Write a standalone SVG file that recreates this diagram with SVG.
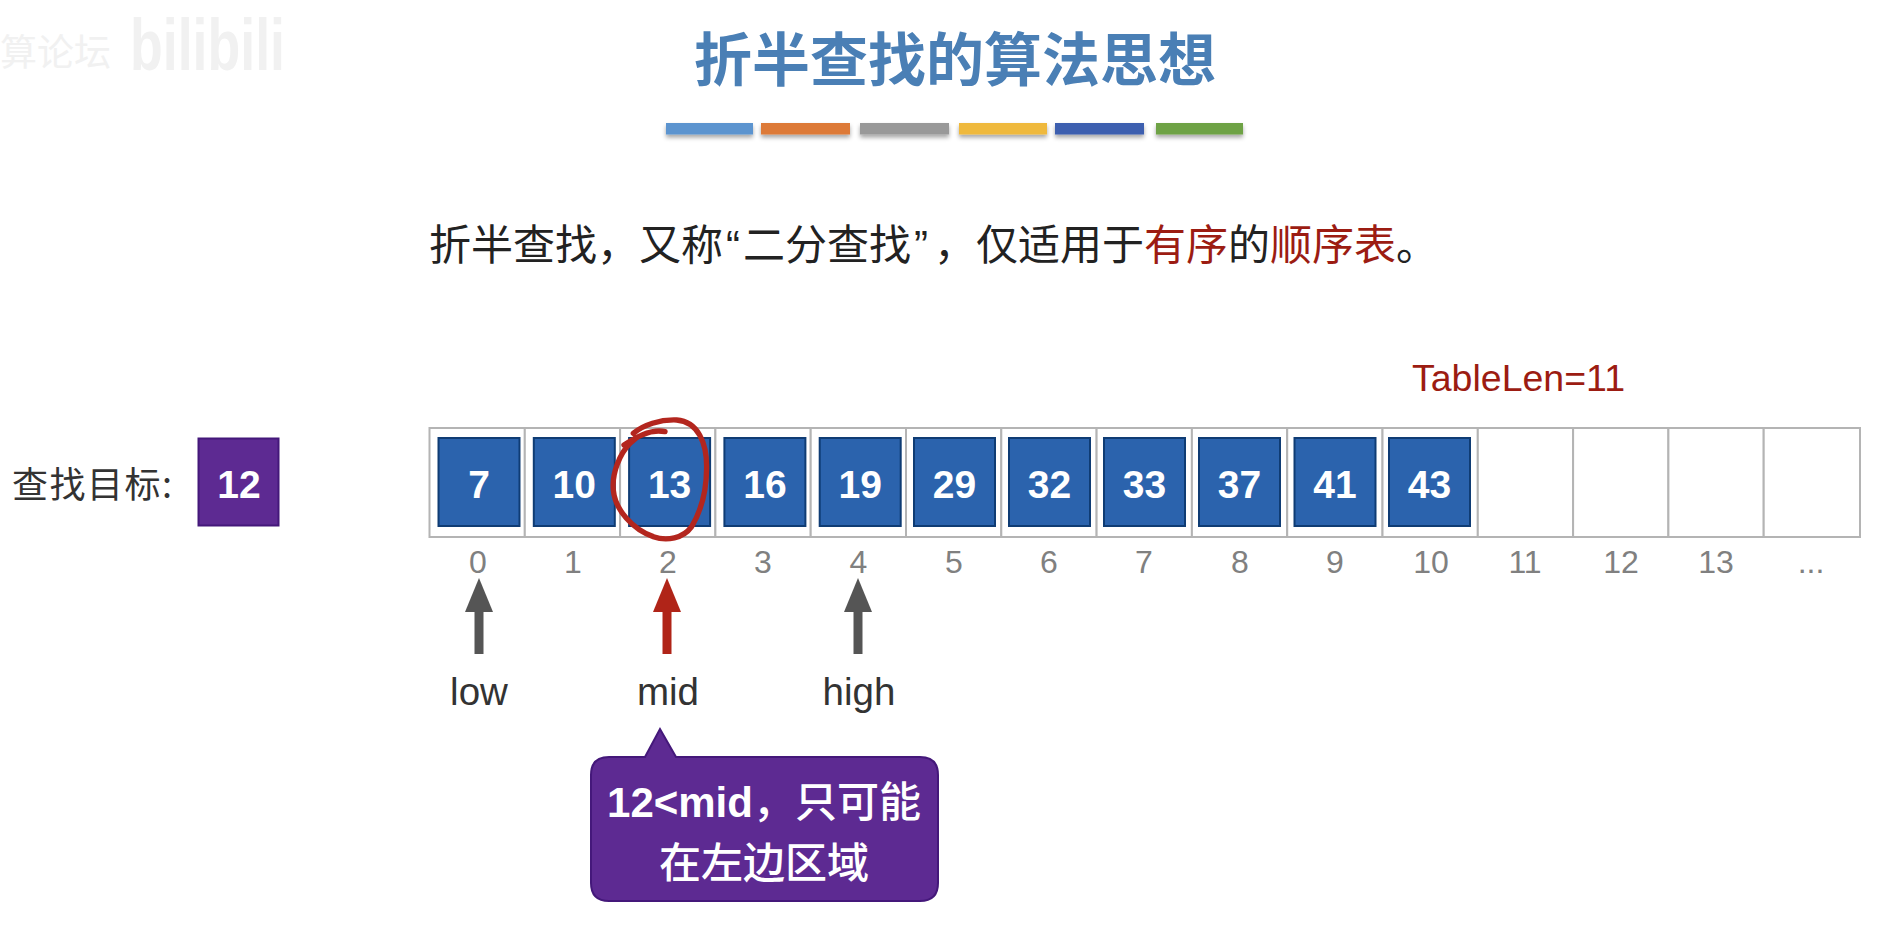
<svg xmlns="http://www.w3.org/2000/svg" width="1892" height="942" viewBox="0 0 1892 942">
<defs>
<style>
text{font-family:"Liberation Sans","Noto Sans CJK SC",sans-serif}
.cjk{font-family:"Noto Sans CJK SC","Liberation Sans",sans-serif}
.cell{fill:#fff;stroke:#b4b4b4;stroke-width:2}
.box{fill:#2b63ad;stroke:#0f3c74;stroke-width:2}
.val{fill:#fff;font-size:39px;font-weight:700;text-anchor:middle}
.idx{fill:#808080;font-size:32px;text-anchor:middle}
.ptr{fill:#333;font-size:38.500px;text-anchor:middle}
.red{fill:#9c1c12}
.sub{fill:#222;font-size:42px}
.q{font-family:"Liberation Sans",sans-serif}
.bar{filter:url(#sh)}
.wm{fill:#f1f1f1}
.call{fill:#fff;font-size:42px;font-weight:500;text-anchor:middle}
</style>
<filter id="sh" x="-10%" y="-50%" width="120%" height="220%"><feDropShadow dx="0" dy="3" stdDeviation="2" flood-color="#000" flood-opacity="0.35"/></filter>
<marker id="ag" markerUnits="userSpaceOnUse" markerWidth="40" markerHeight="30" refX="0" refY="14" orient="auto"><path d="M0 0L34 14L0 28Z" fill="#555"/></marker>
<marker id="ar" markerUnits="userSpaceOnUse" markerWidth="40" markerHeight="30" refX="0" refY="14" orient="auto"><path d="M0 0L34 14L0 28Z" fill="#b02418"/></marker>
</defs>
<rect width="1892" height="942" fill="#fff"/>
<g id="watermark">
<text class="wm cjk" x="0" y="66" font-size="37">算论坛</text>
<text class="wm" x="130" y="70" font-size="72" font-weight="700" textLength="155" lengthAdjust="spacingAndGlyphs">bilibili</text>
</g>
<g id="title">
<text class="cjk" x="955" y="81" font-size="58" font-weight="700" fill="#4a7fb5" text-anchor="middle">折半查找的算法思想</text>
<rect class="bar" x="666" y="123" width="87" height="11.500" fill="#5b94cf"/>
<rect class="bar" x="761" y="123" width="89" height="11.500" fill="#dd7a38"/>
<rect class="bar" x="860" y="123" width="89" height="11.500" fill="#999"/>
<rect class="bar" x="959" y="123" width="88" height="11.500" fill="#efb93c"/>
<rect class="bar" x="1055" y="123" width="89" height="11.500" fill="#3c5eaf"/>
<rect class="bar" x="1156" y="123" width="87" height="11.500" fill="#6ea244"/>
</g>
<g id="subtitle">
<text class="sub cjk" y="260"><tspan x="429">折半查找，又称</tspan><tspan class="q" x="726">“</tspan><tspan x="743">二分查找</tspan><tspan class="q" x="914">”</tspan><tspan x="934">，</tspan><tspan x="976">仅适用于</tspan><tspan class="red" x="1144">有序</tspan><tspan x="1228">的</tspan><tspan class="red" x="1270">顺序表</tspan><tspan x="1396">。</tspan></text>
</g>
<g id="tablelen"><text class="red" x="1412" y="391" font-size="37.500">TableLen=11</text></g>
<g id="target">
<text class="cjk" x="12" y="498" font-size="36" fill="#333" letter-spacing="1.500">查找目标:</text>
<rect x="198.500" y="438.500" width="80" height="87" fill="#5d2a92" stroke="#44187a" stroke-width="2"/>
<text class="val" x="239" y="498">12</text>
</g>
<g id="table">
<rect class="cell" x="429.500" y="428" width="95.300" height="109"/>
<rect class="cell" x="524.800" y="428" width="95.300" height="109"/>
<rect class="cell" x="620.100" y="428" width="95.300" height="109"/>
<rect class="cell" x="715.400" y="428" width="95.300" height="109"/>
<rect class="cell" x="810.700" y="428" width="95.300" height="109"/>
<rect class="cell" x="906" y="428" width="95.300" height="109"/>
<rect class="cell" x="1001.300" y="428" width="95.300" height="109"/>
<rect class="cell" x="1096.600" y="428" width="95.300" height="109"/>
<rect class="cell" x="1191.900" y="428" width="95.300" height="109"/>
<rect class="cell" x="1287.200" y="428" width="95.300" height="109"/>
<rect class="cell" x="1382.500" y="428" width="95.300" height="109"/>
<rect class="cell" x="1477.800" y="428" width="95.300" height="109"/>
<rect class="cell" x="1573.100" y="428" width="95.300" height="109"/>
<rect class="cell" x="1668.400" y="428" width="95.300" height="109"/>
<rect class="cell" x="1763.700" y="428" width="96.300" height="109"/>
</g>
<g id="values">
<g id="n0"><rect class="box" x="438.500" y="438" width="81" height="88"/><text class="val" x="479" y="498">7</text></g>
<g id="n1"><rect class="box" x="533.800" y="438" width="81" height="88"/><text class="val" x="574.300" y="498">10</text></g>
<g id="n2"><rect class="box" x="629.100" y="438" width="81" height="88"/><text class="val" x="669.600" y="498">13</text></g>
<g id="n3"><rect class="box" x="724.400" y="438" width="81" height="88"/><text class="val" x="764.900" y="498">16</text></g>
<g id="n4"><rect class="box" x="819.700" y="438" width="81" height="88"/><text class="val" x="860.200" y="498">19</text></g>
<g id="n5"><rect class="box" x="914" y="438" width="81" height="88"/><text class="val" x="954.500" y="498">29</text></g>
<g id="n6"><rect class="box" x="1009" y="438" width="81" height="88"/><text class="val" x="1049.500" y="498">32</text></g>
<g id="n7"><rect class="box" x="1104" y="438" width="81" height="88"/><text class="val" x="1144.500" y="498">33</text></g>
<g id="n8"><rect class="box" x="1199" y="438" width="81" height="88"/><text class="val" x="1239.500" y="498">37</text></g>
<g id="n9"><rect class="box" x="1294.500" y="438" width="81" height="88"/><text class="val" x="1335" y="498">41</text></g>
<g id="n10"><rect class="box" x="1389" y="438" width="81" height="88"/><text class="val" x="1429.500" y="498">43</text></g>
</g>
<g id="indices">
<text class="idx" x="478" y="573">0</text>
<text class="idx" x="573" y="573">1</text>
<text class="idx" x="668" y="573">2</text>
<text class="idx" x="763" y="573">3</text>
<text class="idx" x="858.500" y="573">4</text>
<text class="idx" x="954" y="573">5</text>
<text class="idx" x="1049" y="573">6</text>
<text class="idx" x="1144" y="573">7</text>
<text class="idx" x="1240" y="573">8</text>
<text class="idx" x="1335" y="573">9</text>
<text class="idx" x="1431" y="573">10</text>
<text class="idx" x="1525" y="573">11</text>
<text class="idx" x="1621" y="573">12</text>
<text class="idx" x="1716" y="573">13</text>
<text class="idx" x="1811" y="573">...</text>
</g>
<g id="connectors">
<line x1="479" y1="654" x2="479" y2="612" stroke="#555" stroke-width="9" marker-end="url(#ag)"/>
<line x1="667" y1="654" x2="667" y2="612" stroke="#b02418" stroke-width="9" marker-end="url(#ar)"/>
<line x1="858" y1="654" x2="858" y2="612" stroke="#555" stroke-width="9" marker-end="url(#ag)"/>
</g>
<g id="pointers">
<text class="ptr" x="479" y="705">low</text>
<text class="ptr" x="668" y="705">mid</text>
<text class="ptr" x="859" y="705">high</text>
</g>
<g id="circle">
<path transform="translate(420 410) scale(.3333)" d="M612 105C650 80 700 55 735 65C700 60 660 70 630 100C600 130 575 190 580 240C585 300 640 360 700 380C740 395 790 385 815 350C845 300 860 240 860 170C860 100 835 35 770 30C720 28 670 45 640 70" fill="none" stroke="#b3261e" stroke-width="16" stroke-linecap="round" stroke-linejoin="round"/>
</g>
<g id="callout">
<path d="M609 757H645L660 729L676 757H920Q938 757 938 775V883Q938 901 920 901H609Q591 901 591 883V775Q591 757 609 757Z" fill="#5d2a92" stroke="#44187a" stroke-width="2"/>
<text class="call" x="764" y="817"><tspan font-weight="700">12&lt;mid</tspan>，只可能</text>
<text class="call" x="764" y="878">在左边区域</text>
</g>
</svg>
